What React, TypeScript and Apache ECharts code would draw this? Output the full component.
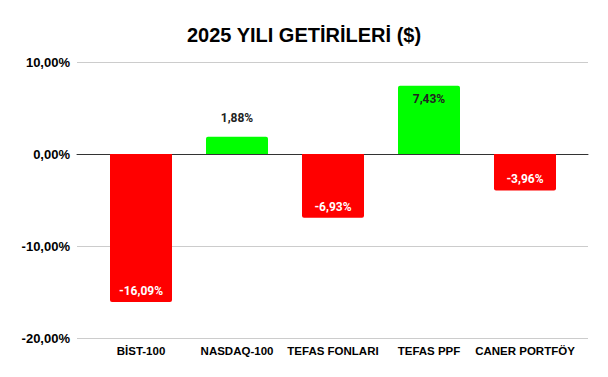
import React, { useEffect, useRef } from "react";
import * as echarts from "echarts";

const categories = ["BİST-100", "NASDAQ-100", "TEFAS FONLARI", "TEFAS PPF", "CANER PORTFÖY"];
const values = [-16.09, 1.88, -6.93, 7.43, -3.96];
const yTicks = [-20, -10, 0, 10];

const fmt = (v: number) => v.toFixed(2).replace(".", ",") + "%";

export default function App() {
  const ref = useRef<HTMLDivElement>(null);
  useEffect(() => {
    const chart = echarts.init(ref.current!, null, { renderer: "svg" });
    const FONT = "Liberation Sans, Arial, sans-serif";
    const data = values.map((v) => {
      let label: any;
      if (v < 0) {
        label = { show: true, position: "insideBottom", distance: 5, color: "#fff" };
      } else if (v < 4) {
        label = { show: true, position: "top", distance: 13, color: "#222" };
      } else {
        label = { show: true, position: "insideTop", distance: 7, color: "#222" };
      }
      return {
        value: v,
        itemStyle: { color: v < 0 ? "#ff0000" : "#00ff00", borderRadius: v < 0 ? [0, 0, 2, 2] : [2, 2, 0, 0] },
        label,
      };
    });
    chart.setOption({
      animation: false,
      title: {
        text: "2025 YILI GETİRİLERİ ($)",
        left: "center",
        top: 20,
        textStyle: { fontFamily: FONT, fontWeight: "bold", fontSize: 20, color: "#000" },
      },
      grid: [
        { left: 77, right: 20, top: 62, height: 276 },
        { left: 93, right: 35, top: 62, height: 276 },
      ],
      xAxis: [
        {
          gridIndex: 0,
          type: "value",
          min: 0,
          max: 1,
          axisLine: { show: true, onZero: true, lineStyle: { color: "#333", width: 1 } },
          axisTick: { show: false },
          axisLabel: { show: false },
          splitLine: { show: false },
        },
        {
          gridIndex: 1,
          type: "category",
          data: categories,
          position: "bottom",
          axisLine: { show: false, onZero: false },
          axisTick: { show: false },
          axisLabel: { interval: 0, fontFamily: FONT, fontWeight: "bold", fontSize: 11.5, color: "#000", margin: 7 },
          splitLine: { show: false },
        },
      ],
      yAxis: [
        {
          gridIndex: 0,
          type: "value",
          min: -20,
          max: 10,
          interval: 10,
          axisLine: { show: false },
          axisTick: { show: false },
          axisLabel: {
            fontFamily: FONT,
            fontWeight: 900,
            fontSize: 13,
            color: "#000",
            margin: 7,
            formatter: (v: number) => (yTicks.includes(v) ? fmt(v) : ""),
          },
          splitLine: { show: true, lineStyle: { color: "#cccccc", width: 1 } },
        },
        {
          gridIndex: 1,
          type: "value",
          min: -20,
          max: 10,
          interval: 10,
          show: false,
          splitLine: { show: false },
        },
      ],
      series: [
        {
          type: "bar",
          xAxisIndex: 1,
          yAxisIndex: 1,
          barWidth: 62,
          data,
          label: {
            fontFamily: "Roboto, sans-serif",
            fontWeight: "bold",
            fontSize: 12,
            formatter: (p: any) => fmt(p.value),
          },
        },
      ],
    });
    return () => chart.dispose();
  }, []);
  return <div ref={ref} style={{ position: "absolute", left: 0, top: 0, width: 608, height: 377 }} />;
}
